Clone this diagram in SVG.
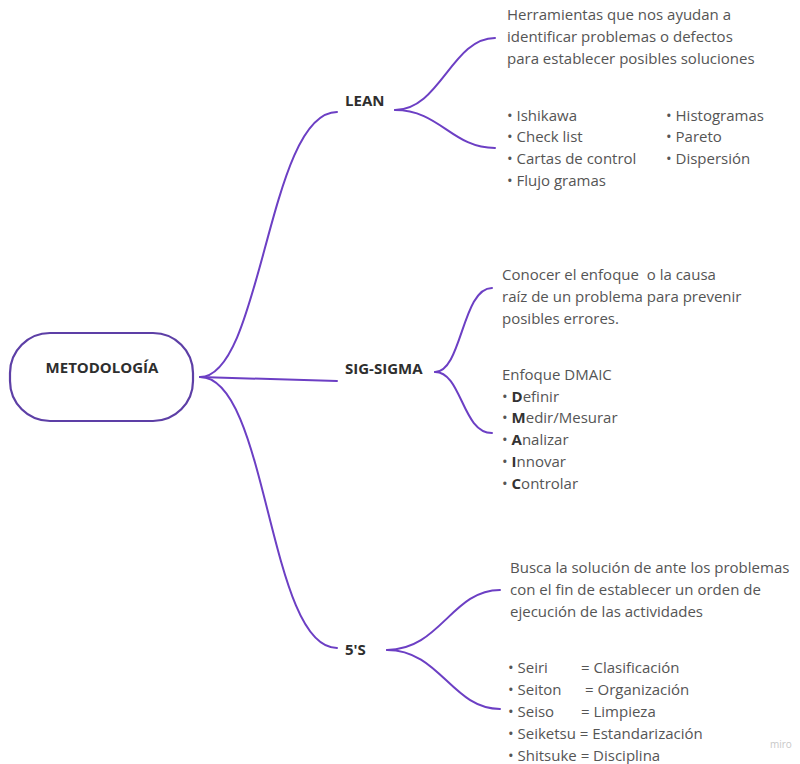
<svg xmlns="http://www.w3.org/2000/svg" width="800" height="764" viewBox="0 0 800 764">
  <style>
    .edge { fill: none; stroke: #6c3fc4; stroke-width: 2; stroke-linecap: round; }
    .root { fill: #ffffff; stroke: #5d3fa6; stroke-width: 2.2; }
    .label { font-family: "Open Sans", "Liberation Sans", sans-serif; font-size: 15px; font-weight: bold; fill: #2e2e2e; }
    .note { font-family: "Open Sans", "Liberation Sans", sans-serif; font-size: 15px; fill: #555555; }
    .note tspan.b { font-weight: bold; fill: #333333; }
    .mark { font-family: "Open Sans", "Liberation Sans", sans-serif; font-size: 10px; fill: #c8c8c8; }
  </style>
  <rect width="800" height="764" fill="#ffffff"/>

  <!-- connectors -->
  <g id="connectors">
    <path class="edge" d="M200,377 C262,377 268,112 337,112"/>
    <path class="edge" d="M200,377 L337,381"/>
    <path class="edge" d="M200,377 C268,377 268,648 337,648"/>
    <path class="edge" d="M395,110 C440,110 452,38 495,38"/>
    <path class="edge" d="M395,110 C440,110 452,148 495,148"/>
    <path class="edge" d="M435,372 C462,372 462,288 492,288"/>
    <path class="edge" d="M435,372 C462,372 462,433 492,433"/>
    <path class="edge" d="M387,650 C440,650 452,590 500,590"/>
    <path class="edge" d="M387,650 C440,650 452,709 500,709"/>
  </g>

  <!-- root -->
  <g id="metodologia">
    <rect class="root" x="10" y="333" width="183" height="88" rx="40" ry="40"/>
    <text class="label" x="102" y="373" text-anchor="middle">METODOLOGÍA</text>
  </g>

  <!-- LEAN -->
  <g id="lean">
    <text class="label" x="345" y="106">LEAN</text>
  </g>
  <g id="lean-desc">
    <text class="note" x="507" y="20">Herramientas que nos ayudan a</text>
    <text class="note" x="507" y="42">identificar problemas o defectos</text>
    <text class="note" x="507" y="64">para establecer posibles soluciones</text>
  </g>
  <g id="lean-tools">
    <text class="note" x="507" y="121">• Ishikawa</text>
    <text class="note" x="507" y="142">• Check list</text>
    <text class="note" x="507" y="164">• Cartas de control</text>
    <text class="note" x="507" y="186">• Flujo gramas</text>
    <text class="note" x="666" y="121">• Histogramas</text>
    <text class="note" x="666" y="142">• Pareto</text>
    <text class="note" x="666" y="164">• Dispersión</text>
  </g>

  <!-- SIG-SIGMA -->
  <g id="sig-sigma">
    <text class="label" x="345" y="374">SIG-SIGMA</text>
  </g>
  <g id="sigma-desc">
    <text class="note" x="502" y="280">Conocer el enfoque&#160; o la causa</text>
    <text class="note" x="502" y="302">raíz de un problema para prevenir</text>
    <text class="note" x="502" y="324">posibles errores.</text>
  </g>
  <g id="sigma-dmaic">
    <text class="note" x="502" y="380">Enfoque DMAIC</text>
    <text class="note" x="502" y="402">• <tspan class="b">D</tspan>efinir</text>
    <text class="note" x="502" y="423">• <tspan class="b">M</tspan>edir/Mesurar</text>
    <text class="note" x="502" y="445">• <tspan class="b">A</tspan>nalizar</text>
    <text class="note" x="502" y="467">• <tspan class="b">I</tspan>nnovar</text>
    <text class="note" x="502" y="489">• <tspan class="b">C</tspan>ontrolar</text>
  </g>

  <!-- 5'S -->
  <g id="cinco-s">
    <text class="label" x="345" y="655">5'S</text>
  </g>
  <g id="cinco-s-desc">
    <text class="note" x="510" y="573">Busca la solución de ante los problemas</text>
    <text class="note" x="510" y="595">con el fin de establecer un orden de</text>
    <text class="note" x="510" y="617">ejecución de las actividades</text>
  </g>
  <g id="cinco-s-list">
    <text class="note" x="508" y="673">• Seiri<tspan x="581">= Clasificación</tspan></text>
    <text class="note" x="508" y="695">• Seiton<tspan x="585">= Organización</tspan></text>
    <text class="note" x="508" y="717">• Seiso<tspan x="581">= Limpieza</tspan></text>
    <text class="note" x="508" y="739">• Seiketsu = Estandarización</text>
    <text class="note" x="508" y="761">• Shitsuke = Disciplina</text>
  </g>

  <text class="mark" x="770" y="748">miro</text>
</svg>
